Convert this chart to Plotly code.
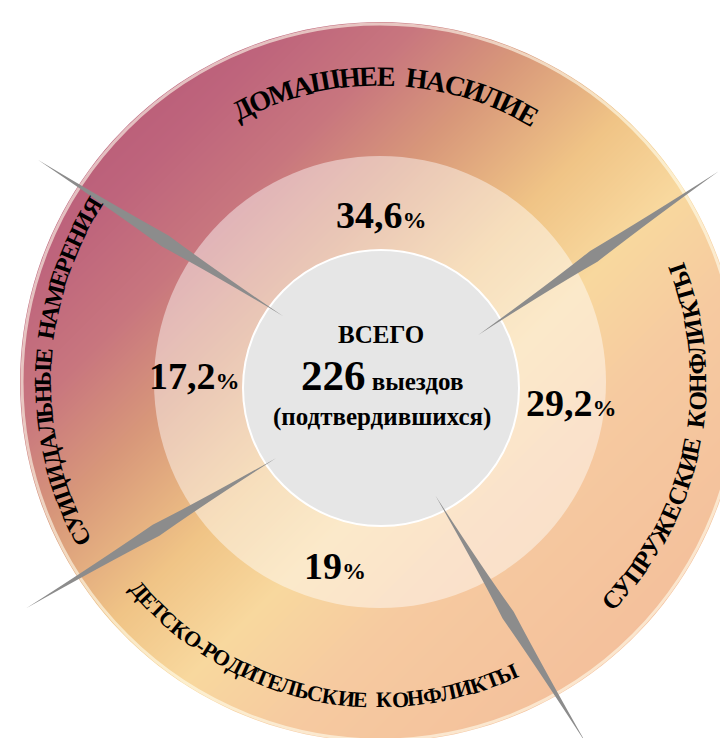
import numpy as np
import plotly.graph_objects as go

# Data
categories = ["ДОМАШНЕЕ  НАСИЛИЕ", "СУПРУЖЕСКИЕ  КОНФЛИКТЫ",
              "ДЕТСКО-РОДИТЕЛЬСКИЕ  КОНФЛИКТЫ", "СУИЦИДАЛЬНЫЕ  НАМЕРЕНИЯ"]
shares = [34.6, 29.2, 19.0, 17.2]
total_calls = 226

# Layout geometry (pixel space)
W, H = 728, 738
CX, CY = 372, 374
R_OUT, R_RING = 360, 226
GX, GY, GR = 373, 380, 138
FONT = "Liberation Serif"

# curved label placement: radius, mid angle, font size, letter width factor, reading direction
label_arcs = [(306, 89, 28, 0.94, "cw"), (318, -11.5, 25, 0.93, "ccw"),
              (318, -102.6, 22, 0.92, "ccw"), (337, 178, 24, 0.93, "cw")]
# where the percentage numbers sit
pct_pos = [(373, 207), (563, 395), (327, 558), (186, 368)]
# decorative separators: (angle in, r in, angle out, r out)
spikes = [(145.8, 117, 147, 408), (25.6, 109, 31.9, 399),
          (216.2, 129, 212.6, 420), (-64, 126, -60.3, 418)]

CHAR_W = {"А": .72, "Д": .74, "Е": .67, "Ж": 1.05, "И": .78, "К": .78, "Л": .74,
          "М": .94, "Н": .78, "О": .78, "П": .78, "Р": .61, "С": .72, "Т": .67,
          "У": .72, "Ф": .86, "Ц": .8, "Ш": 1.08, "Ы": .98, "Ь": .63, "Я": .72,
          " ": .22, "-": .33}

# background gradient (decorative)
gx = np.arange(0, W + 4, 4)
gy = np.arange(0, H + 4, 4)
XX, YY = np.meshgrid(gx, gy)
grad = XX + YY
scale = [[0.0, "#b04e70"], [0.2, "#be647c"], [0.29, "#c8767e"], [0.38, "#d8987a"],
         [0.49, "#f0c486"], [0.58, "#f8d89e"], [0.68, "#f6caa0"], [1.0, "#f2b898"]]

fig = go.Figure(go.Heatmap(x=gx, y=gy, z=grad, zmin=0, zmax=1466, colorscale=scale,
                           zsmooth="best", showscale=False, hoverinfo="skip"))


def circle_path(cx, cy, r, n=180):
    a = np.linspace(0, 2 * np.pi, n, endpoint=False)
    pts = [f"{cx + r * np.cos(t):.2f},{cy + r * np.sin(t):.2f}" for t in a]
    return "M" + " L".join(pts) + " Z"


shapes = []
# white mask outside the disc
shapes.append(dict(type="path", path=f"M0,0 L{W},0 L{W},{H} L0,{H} Z " + circle_path(CX, CY, R_OUT),
                   fillrule="evenodd", fillcolor="white", line=dict(width=0), layer="above"))
shapes.append(dict(type="circle", x0=CX - R_OUT + 2, x1=CX + R_OUT - 2, y0=CY - R_OUT + 2, y1=CY + R_OUT - 2,
                   line=dict(color="rgba(255,255,240,0.6)", width=3), layer="above"))
# lighter inner ring
shapes.append(dict(type="circle", x0=CX - R_RING, x1=CX + R_RING, y0=CY - R_RING, y1=CY + R_RING,
                   fillcolor="rgba(255,255,255,0.45)", line=dict(width=0), layer="above"))
# grey centre
shapes.append(dict(type="circle", x0=GX - GR, x1=GX + GR, y0=GY - GR, y1=GY + GR,
                   fillcolor="#e6e6e6", line=dict(color="white", width=2), layer="above"))

# spikes
for a_in, r_in, a_out, r_out in spikes:
    p_in = np.array([CX + r_in * np.cos(np.radians(a_in)), CY - r_in * np.sin(np.radians(a_in))])
    p_out = np.array([CX + r_out * np.cos(np.radians(a_out)), CY - r_out * np.sin(np.radians(a_out))])
    d = p_out - p_in
    n = np.array([-d[1], d[0]]) / np.hypot(*d)
    mid = p_in + 0.48 * d
    a, b = mid + 6.5 * n, mid - 6.5 * n
    path = (f"M{p_in[0]:.1f},{p_in[1]:.1f} Q{p_in[0] + 0.3 * d[0] + 2.5 * n[0]:.1f},{p_in[1] + 0.3 * d[1] + 2.5 * n[1]:.1f} "
            f"{a[0]:.1f},{a[1]:.1f} Q{p_in[0] + 0.7 * d[0] + 2.5 * n[0]:.1f},{p_in[1] + 0.7 * d[1] + 2.5 * n[1]:.1f} "
            f"{p_out[0]:.1f},{p_out[1]:.1f} Q{p_in[0] + 0.7 * d[0] - 2.5 * n[0]:.1f},{p_in[1] + 0.7 * d[1] - 2.5 * n[1]:.1f} "
            f"{b[0]:.1f},{b[1]:.1f} Q{p_in[0] + 0.3 * d[0] - 2.5 * n[0]:.1f},{p_in[1] + 0.3 * d[1] - 2.5 * n[1]:.1f} "
            f"{p_in[0]:.1f},{p_in[1]:.1f} Z")
    shapes.append(dict(type="path", path=path, fillcolor="#8c8c8c", line=dict(width=0), layer="above"))

annotations = []


def arc_text(text, r, mid, size, fac, direction):
    widths = [CHAR_W.get(ch, 0.72) * size * fac for ch in text]
    span = sum(widths) / r
    cum = 0.0
    for ch, w in zip(text, widths):
        off = (cum + w / 2) / r
        cum += w
        if ch == " ":
            continue
        if direction == "cw":
            th = np.radians(mid) + span / 2 - off
            rot = 90 - np.degrees(th)
        else:
            th = np.radians(mid) - span / 2 + off
            rot = -90 - np.degrees(th)
        annotations.append(dict(x=CX + r * np.cos(th), y=CY - r * np.sin(th), text=f"<b>{ch}</b>",
                                textangle=rot, showarrow=False, xanchor="center", yanchor="middle",
                                font=dict(family=FONT, size=size, color="black")))


for name, (r, mid, size, fac, direction) in zip(categories, label_arcs):
    arc_text(name, r, mid, size, fac, direction)

for v, (px, py) in zip(shares, pct_pos):
    s = f"{v:g}".replace(".", ",")
    annotations.append(dict(x=px, y=py, showarrow=False,
                            text=f"<b>{s}<span style='font-size:24px'>%</span></b>",
                            font=dict(family=FONT, size=38, color="black")))

annotations.append(dict(x=373, y=326, showarrow=False, text="<b>ВСЕГО</b>",
                        font=dict(family=FONT, size=25, color="black")))
annotations.append(dict(x=374, y=367, showarrow=False,
                        text=f"<b><span style='font-size:43px'>{total_calls}</span> выездов</b>",
                        font=dict(family=FONT, size=25, color="black")))
annotations.append(dict(x=374, y=409, showarrow=False, text="<b>(подтвердившихся)</b>",
                        font=dict(family=FONT, size=25, color="black")))

fig.update_layout(width=W, height=H, margin=dict(l=0, r=0, t=0, b=0),
                  paper_bgcolor="white", plot_bgcolor="white", showlegend=False,
                  shapes=shapes, annotations=annotations,
                  xaxis=dict(range=[0, W], visible=False, fixedrange=True),
                  yaxis=dict(range=[H, 0], visible=False, fixedrange=True))

fig.write_html("out.html")
